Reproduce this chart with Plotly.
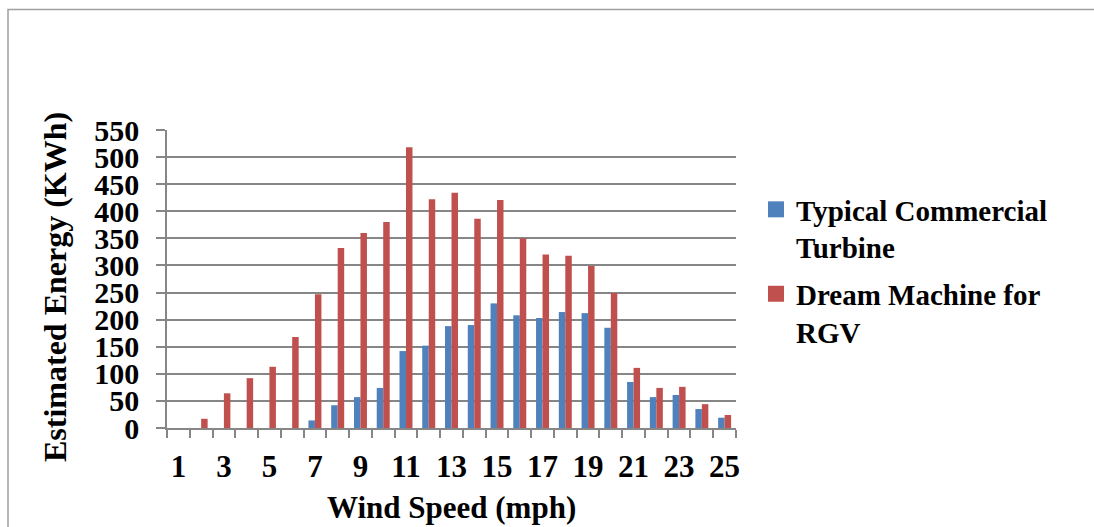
import plotly.graph_objects as go

wind_speed = list(range(1, 26))
typical_turbine = [0, 0, 0, 0, 0, 0, 14, 42, 57, 74, 142, 152, 188, 190, 230,
                   208, 203, 214, 212, 185, 85, 57, 61, 35, 19]
dream_machine = [0, 17, 64, 92, 113, 168, 247, 332, 360, 380, 518, 422, 434, 386, 421,
                 350, 320, 318, 299, 249, 111, 74, 76, 44, 24]
x_tick_labels = [str(v) for v in wind_speed if v % 2 == 1]
y_ticks = list(range(0, 551, 50))

series_names = ["Typical Commercial<br>Turbine", "Dream Machine for<br>RGV"]
colors = ["#4F81BD", "#C0504D"]
FONT = "Liberation Serif, Times New Roman, serif"
GRID = "#868686"

W, H = 1094, 527
L, R, T, B = 167, 736, 130, 428

def px_to_paper_x(px):
    return (px - L) / (R - L)

def px_to_paper_y(py):
    return (B - py) / (B - T)

fig = go.Figure()
for name, vals, col in zip(series_names, [typical_turbine, dream_machine], colors):
    fig.add_trace(go.Bar(x=wind_speed, y=vals, name=name, marker_color=col,
                         marker_line_width=0, showlegend=False, legendgroup=name))
# legend entries with larger square swatches
for name, col in zip(series_names, colors):
    fig.add_trace(go.Scatter(x=[None], y=[None], mode="markers", name=name,
                             marker=dict(symbol="square", size=16, color=col),
                             legendgroup=name, showlegend=True))

fig.update_layout(
    width=W, height=H,
    margin=dict(l=L, r=W - R, t=T, b=H - B, autoexpand=False),
    paper_bgcolor="white", plot_bgcolor="white",
    barmode="group", bargap=0.43, bargroupgap=0,
    font=dict(family=FONT, color="black", size=30, weight="bold"),
    showlegend=True,
    legend=dict(x=px_to_paper_x(756), y=px_to_paper_y(184), xanchor="left", yanchor="top",
                valign="top", itemsizing="trace",
                font=dict(family=FONT, size=29, weight="bold", color="black"),
                tracegroupgap=6, bgcolor="rgba(0,0,0,0)"),
    xaxis=dict(
        range=[0.5, 25.5], tickmode="array", automargin=False,
        tickvals=[v for v in wind_speed if v % 2 == 1], ticktext=x_tick_labels,
        ticks="", showgrid=False, zeroline=False,
        showline=True, linecolor=GRID, linewidth=1.5,
        tickfont=dict(family=FONT, size=31, weight="bold", color="black"),
        ticklabelstandoff=10,
        minor=dict(tick0=0.5, dtick=1, ticks="outside", ticklen=8, tickwidth=1.5,
                   tickcolor=GRID, showgrid=False),
    ),
    yaxis=dict(
        range=[0, 550], tickmode="array", tickvals=y_ticks, automargin=False,
        ticks="outside", ticklen=9, tickwidth=1.5, tickcolor=GRID,
        showgrid=True, gridcolor=GRID, gridwidth=1.5,
        zeroline=False, showline=True, linecolor=GRID, linewidth=1.5,
        tickfont=dict(family=FONT, size=30, weight="bold", color="black"),
        ticklabelstandoff=11,
    ),
    annotations=[
        dict(text="Estimated Energy (KWh)", textangle=-90, showarrow=False,
             xref="paper", yref="paper", x=px_to_paper_x(55), y=px_to_paper_y(287),
             xanchor="center", yanchor="middle",
             font=dict(family=FONT, size=32, weight="bold", color="black")),
        dict(text="Wind Speed (mph)", showarrow=False,
             xref="paper", yref="paper", x=px_to_paper_x(451), y=px_to_paper_y(507),
             xanchor="center", yanchor="middle",
             font=dict(family=FONT, size=31, weight="bold", color="black")),
    ],
)

fig.add_shape(type="rect", xref="paper", yref="paper",
              x0=px_to_paper_x(8), x1=px_to_paper_x(1200),
              y0=px_to_paper_y(700), y1=px_to_paper_y(9.5),
              line=dict(color="#A0A0A0", width=1.5), fillcolor="rgba(0,0,0,0)",
              layer="below")

fig.write_html("out.html")
